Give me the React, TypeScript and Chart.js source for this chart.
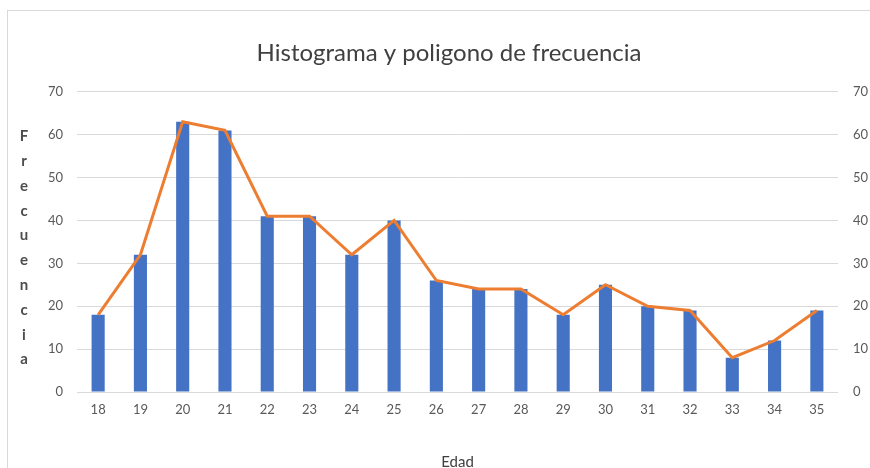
import React, { useEffect, useRef } from "react";
import { Chart, registerables } from "chart.js";

Chart.register(...registerables);

const categories = ["18", "19", "20", "21", "22", "23", "24", "25", "26", "27", "28", "29", "30", "31", "32", "33", "34", "35"];
const frequencies = [18, 32, 63, 61, 41, 41, 32, 40, 26, 24, 24, 18, 25, 20, 19, 8, 12, 19];
const polygon = [18, 32, 63, 61, 41, 41, 32, 40, 26, 24, 24, 18, 25, 20, 19, 8, 12, 19];
const yTitleLetters = ["F", "r", "e", "c", "u", "e", "n", "c", "i", "a"];
const titleText = "Histograma y poligono de frecuencia";
const xTitleText = "Edad";

const FONT = "Lato, 'Open Sans', sans-serif";

const framePlugin = {
  id: "frame",
  beforeDraw(chart: any) {
    const ctx = chart.ctx;
    ctx.save();
    ctx.fillStyle = "#ffffff";
    ctx.fillRect(0, 0, chart.width, chart.height);
    ctx.strokeStyle = "#d9d9d9";
    ctx.lineWidth = 1;
    ctx.strokeRect(7.5, 10.5, chart.width + 20, chart.height + 20);
    ctx.restore();
  },
  afterDraw(chart: any) {
    const ctx = chart.ctx;
    const area = chart.chartArea;
    ctx.save();
    ctx.fillStyle = "#4d4d4d";
    ctx.font = "bold 15px " + FONT;
    ctx.textAlign = "center";
    ctx.textBaseline = "middle";
    const step = 24.8;
    const mid = (area.top + area.bottom) / 2 + 6;
    const start = mid - (step * (yTitleLetters.length - 1)) / 2;
    yTitleLetters.forEach((l, i) => {
      ctx.fillText(l, 24, start + i * step);
    });
    ctx.restore();
  },
};

export default function App() {
  const ref = useRef<HTMLCanvasElement | null>(null);
  useEffect(() => {
    if (!ref.current) return;
    const chart = new Chart(ref.current, {
      type: "bar",
      data: {
        labels: categories,
        datasets: [
          {
            type: "line",
            label: "Polígono",
            data: polygon,
            borderColor: "#ED7D31",
            backgroundColor: "#ED7D31",
            borderWidth: 3,
            pointRadius: 0,
            tension: 0,
            yAxisID: "y",
            order: 0,
          },
          {
            type: "bar",
            label: "Frecuencia",
            data: frequencies,
            backgroundColor: "#4472C4",
            barPercentage: 0.31,
            categoryPercentage: 1,
            yAxisID: "y",
            order: 1,
          },
        ],
      },
      options: {
        responsive: false,
        animation: false,
        layout: { padding: 0 },
        plugins: {
          legend: { display: false },
          tooltip: { enabled: false },
          title: {
            display: true,
            text: titleText,
            color: "#404040",
            font: { family: FONT, size: 24, weight: "normal" },
            padding: { top: 39, bottom: 24 },
          },
        },
        scales: {
          x: {
            grid: { display: false, drawTicks: false },
            border: { display: false },
            ticks: { color: "#595959", font: { family: FONT, size: 13 }, padding: 10, maxRotation: 0 },
            title: {
              display: true,
              text: xTitleText,
              color: "#404040",
              font: { family: FONT, size: 15 },
              padding: { top: 0, bottom: 9 },
            },
            afterFit(scale: any) {
              scale.height = 88;
            },
          },
          y: {
            min: 0,
            max: 70,
            ticks: { stepSize: 10, color: "#595959", font: { family: FONT, size: 13 }, padding: 14 },
            grid: { color: "#d9d9d9", lineWidth: 1, drawTicks: false },
            border: { display: false },
            afterFit(scale: any) {
              scale.width = 77;
            },
          },
          y1: {
            position: "right",
            min: 0,
            max: 70,
            ticks: { stepSize: 10, color: "#595959", font: { family: FONT, size: 13 }, padding: 15 },
            grid: { display: false, drawTicks: false },
            border: { display: false },
            afterFit(scale: any) {
              scale.width = 60;
            },
          },
        },
      },
      plugins: [framePlugin],
    });
    return () => chart.destroy();
  }, []);
  return (
    <div style={{ position: "absolute", left: 0, top: 0, width: 870, height: 468, overflow: "hidden" }}>
      <canvas ref={ref} width={898} height={480} style={{ display: "block" }} />
    </div>
  );
}
